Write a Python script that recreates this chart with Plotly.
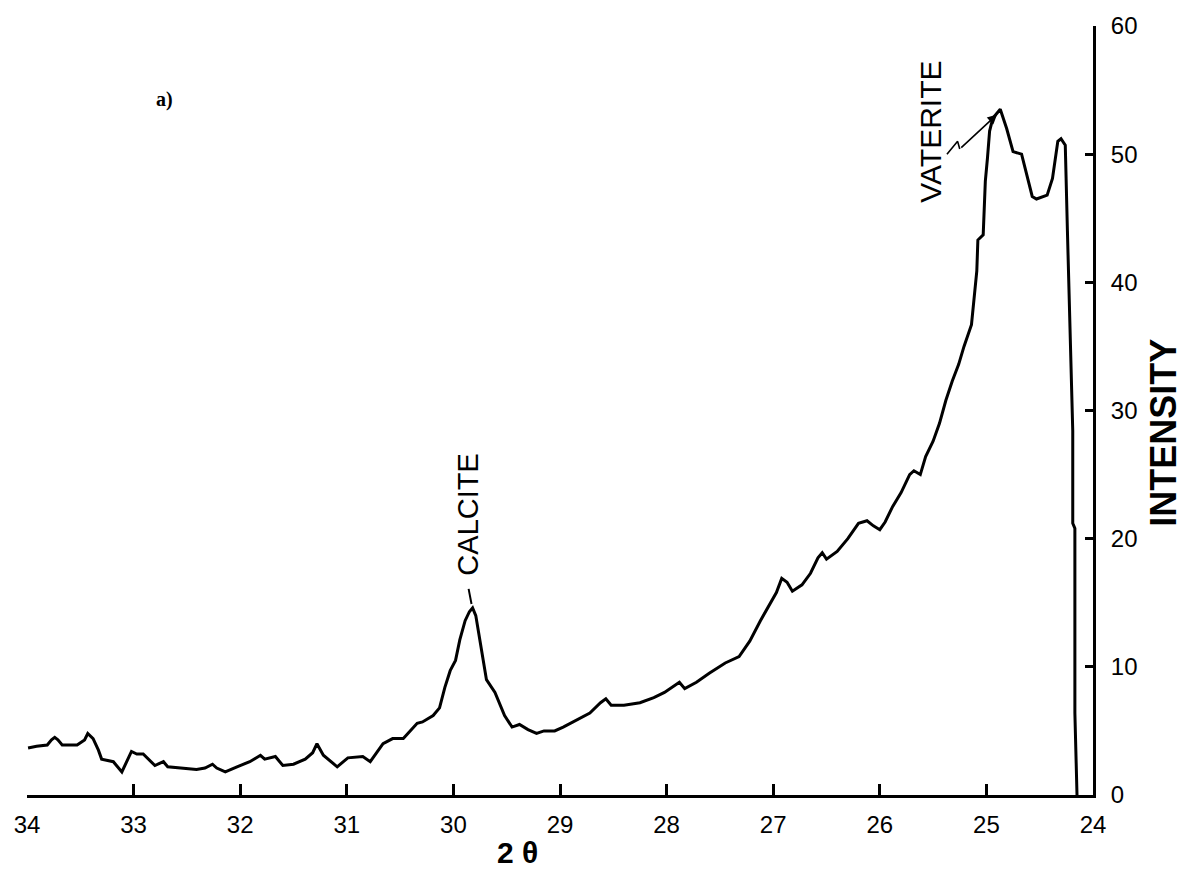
import plotly.graph_objects as go

# 2-theta (degrees) and intensity
two_theta = [
    33.99, 33.91, 33.81, 33.77, 33.74, 33.71, 33.67, 33.53, 33.46, 33.43,
    33.38, 33.33, 33.30, 33.19, 33.11, 33.06, 33.02, 32.97, 32.91, 32.80,
    32.72, 32.68, 32.54, 32.41, 32.33, 32.26, 32.22, 32.14, 32.03, 31.91,
    31.81, 31.77, 31.67, 31.60, 31.50, 31.39, 31.32, 31.28, 31.22, 31.09,
    30.99, 30.90, 30.85, 30.78, 30.66, 30.57, 30.47, 30.34, 30.29, 30.19,
    30.13, 30.08, 30.03, 29.98, 29.94, 29.89, 29.85, 29.82, 29.79, 29.76,
    29.73, 29.69, 29.61, 29.52, 29.45, 29.38, 29.30, 29.22, 29.15, 29.05,
    28.97, 28.85, 28.72, 28.62, 28.57, 28.52, 28.40, 28.25, 28.12, 28.02,
    27.95, 27.88, 27.83, 27.72, 27.60, 27.45, 27.32, 27.22, 27.12, 27.04,
    26.97, 26.92, 26.87, 26.82, 26.73, 26.65, 26.58, 26.54, 26.50, 26.40,
    26.30, 26.20, 26.12, 26.06, 26.00, 25.95, 25.88, 25.80, 25.72, 25.68,
    25.62, 25.57, 25.50, 25.44, 25.38, 25.32, 25.26, 25.21, 25.14, 25.09,
    25.08, 25.03, 25.01, 24.99, 24.97, 24.94, 24.87, 24.81, 24.75, 24.67,
    24.62, 24.57, 24.53, 24.43, 24.38, 24.33, 24.30, 24.26, 24.24, 24.21,
    24.19, 24.19, 24.17, 24.17, 24.15, 24.15,
]
intensity = [
    3.66, 3.8, 3.9, 4.3, 4.5, 4.3, 3.9, 3.9, 4.3, 4.8,
    4.4, 3.5, 2.8, 2.6, 1.8, 2.7, 3.4, 3.2, 3.2, 2.3,
    2.6, 2.2, 2.1, 2.0, 2.1, 2.4, 2.1, 1.8, 2.2, 2.6,
    3.1, 2.8, 3.0, 2.3, 2.4, 2.8, 3.3, 4.0, 3.1, 2.2,
    2.9, 3.0, 3.0, 2.6, 4.0, 4.4, 4.4, 5.6, 5.7, 6.2,
    6.8, 8.4, 9.7, 10.5, 12.1, 13.6, 14.3, 14.6, 14.0, 12.5,
    10.9, 9.0, 8.0, 6.2, 5.3, 5.5, 5.1, 4.8, 5.0, 5.0,
    5.3, 5.8, 6.4, 7.2, 7.5, 7.0, 7.0, 7.2, 7.6, 8.0,
    8.4, 8.8, 8.3, 8.8, 9.5, 10.3, 10.8, 12.0, 13.6, 14.8,
    15.8, 16.9, 16.6, 15.9, 16.4, 17.3, 18.5, 18.9, 18.4, 19.0,
    20.0, 21.2, 21.4, 21.0, 20.7, 21.3, 22.5, 23.6, 25.0, 25.3,
    25.0, 26.4, 27.6, 29.0, 30.8, 32.3, 33.6, 35.0, 36.7, 40.9,
    43.3, 43.7, 47.9, 49.7, 51.8, 52.8, 53.5, 52.0, 50.2, 50.0,
    48.4, 46.7, 46.5, 46.8, 48.1, 51.0, 51.2, 50.7, 44.0, 34.8,
    28.4, 21.2, 20.8, 6.4, 0.6, 0.0,
]

x_ticks = [34, 33, 32, 31, 30, 29, 28, 27, 26, 25, 24]
y_ticks = [0, 10, 20, 30, 40, 50, 60]

# zig-zag tail of the VATERITE pointer (data units)
zig_x = [25.37, 25.27, 25.25]
zig_y = [50.0, 51.0, 50.4]

fig = go.Figure()
fig.add_trace(go.Scatter(
    x=two_theta, y=intensity, mode="lines",
    line=dict(color="black", width=3), showlegend=False, hoverinfo="skip",
))
fig.add_trace(go.Scatter(
    x=zig_x, y=zig_y, mode="lines",
    line=dict(color="black", width=1.6), showlegend=False, hoverinfo="skip",
))

tick_font = dict(family="Liberation Sans, Arial, sans-serif", size=24, color="black")

fig.update_layout(
    width=1185, height=881,
    margin=dict(l=27, r=92, t=24, b=86),
    paper_bgcolor="white", plot_bgcolor="white",
    xaxis=dict(
        range=[34, 24], tickvals=x_ticks, ticktext=[str(v) for v in x_ticks],
        showline=True, linecolor="black", linewidth=3, mirror=False,
        ticks="inside", ticklen=11, tickwidth=3, tickcolor="black",
        showgrid=False, zeroline=False, tickfont=tick_font,
        ticklabelstandoff=6,
    ),
    yaxis=dict(
        range=[0, 60], tickvals=y_ticks, ticktext=[str(v) for v in y_ticks],
        side="right", showline=True, linecolor="black", linewidth=3,
        ticks="inside", ticklen=8, tickwidth=3, tickcolor="black",
        showgrid=False, zeroline=False, tickfont=tick_font,
        ticklabelstandoff=10,
    ),
    annotations=[
        dict(text="<b>2 θ</b>", xref="paper", yref="paper", x=0.46, y=-0.075,
             showarrow=False, font=dict(family="Liberation Sans, Arial, sans-serif", size=30, color="black"),
             xanchor="center", yanchor="middle"),
        dict(text="<b>INTENSITY</b>", xref="paper", yref="paper", x=1.0665, y=0.471,
             showarrow=False, textangle=-90,
             font=dict(family="Liberation Sans, Arial, sans-serif", size=36, color="black"),
             xanchor="center", yanchor="middle"),
        dict(text="VATERITE", xref="x", yref="y", x=25.52, y=51.75,
             showarrow=False, textangle=-90,
             font=dict(family="Liberation Sans, Arial, sans-serif", size=30, color="black"),
             xanchor="center", yanchor="middle"),
        dict(text="CALCITE", xref="x", yref="y", x=29.86, y=21.9,
             showarrow=False, textangle=-90,
             font=dict(family="Liberation Sans, Arial, sans-serif", size=29, color="black"),
             xanchor="center", yanchor="middle"),
        dict(text="<b>a)</b>", xref="x", yref="y", x=32.71, y=54.3,
             showarrow=False,
             font=dict(family="Liberation Serif, Times New Roman, serif", size=20, color="black"),
             xanchor="center", yanchor="middle"),
        # VATERITE pointer arrow
        dict(text="", xref="x", yref="y", x=24.9, y=53.1, axref="x", ayref="y",
             ax=25.25, ay=50.4, showarrow=True, arrowhead=2, arrowsize=1.2,
             arrowwidth=1.6, arrowcolor="black", standoff=0),
        # CALCITE connector
        dict(text="", xref="x", yref="y", x=29.83, y=14.9, axref="x", ayref="y",
             ax=29.86, ay=16.2, showarrow=True, arrowhead=0,
             arrowwidth=2, arrowcolor="black", standoff=0),
    ],
)

fig.write_html(
    "out.html",
    config={"displayModeBar": False},
    post_script="document.body.style.margin='0';document.body.style.padding='0';",
)
